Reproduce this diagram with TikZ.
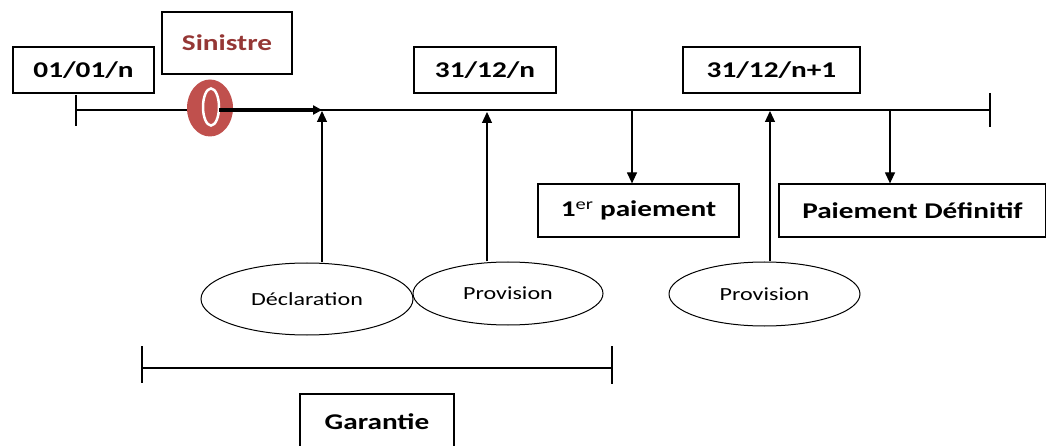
\documentclass[tikz,border=0pt]{standalone}
\usepackage{fontspec}
\setmainfont[FakeStretch=1.3]{Carlito}
\usetikzlibrary{shapes.geometric, arrows.meta}
\definecolor{sinred}{RGB}{192, 80, 77}
\definecolor{sindark}{RGB}{149, 55, 53}

\begin{document}
\begin{tikzpicture}[x=1pt, y=-1pt,
  datebox/.style={draw, line width=1.2pt, inner sep=0pt, font=\fontsize{22.5}{26}\selectfont\bfseries},
  event/.style={draw, ellipse, line width=1pt, inner sep=0pt, font=\fontsize{18.5}{22}\selectfont},
  arr/.style={line width=1.2pt, -{Triangle[length=11pt, width=10pt]}},
  tline/.style={line width=1.2pt}]
  \useasboundingbox (0,0) rectangle (1046,446);

  % Time line
  \coordinate (t0) at (76, 110);
  \coordinate (t1) at (990, 110);
  \coordinate (tsin) at (219, 110);
  \coordinate (tdec) at (322, 110);
  \coordinate (tpro1) at (487, 110);
  \coordinate (tpay1) at (632, 110);
  \coordinate (tpro2) at (770, 110);
  \coordinate (tpay2) at (890, 110);
  \draw[tline] (t0) -- (t1);
  \draw[tline] (76, 95) -- (76, 126);
  \draw[tline] (990, 93) -- (990, 127);

  % Dates
  \node[datebox, minimum width=141, minimum height=46] (d0) at (83.5, 70) {01/01/n};
  \node[datebox, minimum width=142, minimum height=46] (d1) at (485, 70) {31/12/n};
  \node[datebox, minimum width=177, minimum height=46] (d2) at (771.5, 70) {31/12/n+1};

  % Sinistre
  \node[datebox, text=sindark, minimum width=130, minimum height=62] (sinbox) at (227, 43) {Sinistre};
  \node[ellipse, fill=sinred, minimum width=46, minimum height=57, inner sep=0pt] (sin) at (210, 108) {};
  \node[ellipse, draw=white, line width=2.5pt, minimum width=16, minimum height=37, inner sep=0pt] (sinring) at (211, 107) {};
  \draw[line width=3.5pt, -{Triangle[length=9pt, width=9pt]}] (tsin) -- (tdec);

  % Payments
  \node[datebox, minimum width=201, minimum height=53] (pay1) at (638.5, 210.5) {1\textsuperscript{\mdseries er} paiement};
  \node[datebox, minimum width=267, minimum height=53] (pay2) at (912.5, 210.5) {Paiement Définitif};
  \draw[arr] (tpay1) -- (tpay1 |- pay1.north);
  \draw[arr] (tpay2) -- (tpay2 |- pay2.north);

  % Events
  \node[event, minimum width=212, minimum height=72] (decl) at (307, 299) {Déclaration};
  \node[event, minimum width=190, minimum height=63] (prov1) at (508, 293.5) {Provision};
  \node[event, minimum width=191, minimum height=64] (prov2) at (764.5, 294) {Provision};
  \draw[arr, shorten >=1pt] (tdec |- decl.north) -- (tdec);
  \draw[arr, shorten >=2pt] (tpro1 |- prov1.north) -- (tpro1);
  \draw[arr, shorten >=1pt] (tpro2 |- prov2.north) -- (tpro2);

  % Garantie
  \coordinate (g0) at (142, 368);
  \coordinate (g1) at (612, 368);
  \draw[tline] (g0) -- (g1);
  \draw[tline] (142, 346) -- (142, 383);
  \draw[tline] (612, 346) -- (612, 384);
  \node[datebox, minimum width=154, minimum height=56] (gar) at (377, 422) {Garantie};
\end{tikzpicture}
\end{document}
